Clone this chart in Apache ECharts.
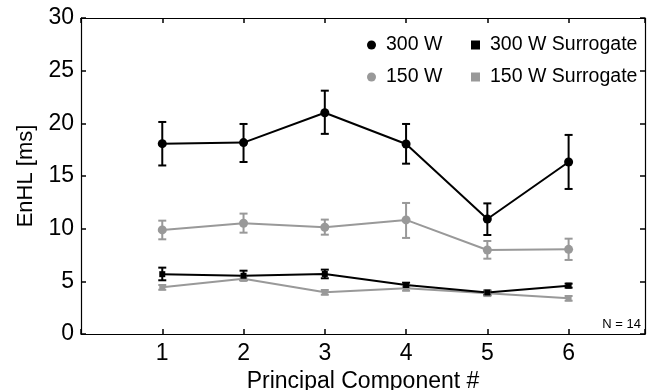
<!DOCTYPE html>
<html>
<head>
<meta charset="utf-8">
<script src="https://cdn.jsdelivr.net/npm/echarts@6/dist/echarts.min.js"></script>
<style>
  html, body { margin: 0; padding: 0; background: #fff; }
  #main { width: 649px; height: 390px; }
</style>
</head>
<body>
<div id="main"></div>
<script>
  // principal components
  var components = [1, 2, 3, 4, 5, 6];
  var yTicks = [0, 5, 10, 15, 20, 25, 30];

  // 300 W
  var w300 = [18.07, 18.17, 21.0, 18.04, 10.92, 16.33];
  var w300Low = [16.0, 16.33, 19.0, 16.17, 9.4, 13.77];
  var w300High = [20.13, 19.94, 23.1, 19.94, 12.4, 18.9];
  // 150 W
  var w150 = [9.88, 10.51, 10.13, 10.83, 7.98, 8.04];
  var w150Low = [8.99, 9.62, 9.43, 9.12, 7.15, 7.03];
  var w150High = [10.76, 11.43, 10.86, 12.44, 8.83, 9.05];
  // 300 W Surrogate
  var s300 = [5.68, 5.53, 5.70, 4.65, 3.94, 4.59];
  var s300Low = [5.1, 5.13, 5.29, 4.43, 3.7, 4.4];
  var s300High = [6.3, 6.01, 6.11, 4.87, 4.11, 4.78];
  // 150 W Surrogate
  var s150 = [4.43, 5.25, 3.96, 4.34, 3.88, 3.39];
  var s150Low = [4.2, 5.05, 3.73, 4.11, 3.6, 3.16];
  var s150High = [4.65, 5.45, 4.18, 4.49, 4.15, 3.61];

  var FONT = "'Liberation Sans', Arial, sans-serif";
  var BLACK = '#000000', GREY = '#999999';

  function pairs(vals) {
    var out = [];
    for (var i = 0; i < components.length; i++) out.push([components[i], vals[i]]);
    return out;
  }
  function errPairs(lo, hi) {
    var out = [];
    for (var i = 0; i < components.length; i++) out.push([components[i], lo[i], hi[i]]);
    return out;
  }

  function errSeries(name, lo, hi, color) {
    return {
      name: name,
      type: 'custom',
      z: 3,
      silent: true,
      data: errPairs(lo, hi),
      renderItem: function (params, api) {
        var x = api.value(0);
        var top = api.coord([x, api.value(2)]);
        var bot = api.coord([x, api.value(1)]);
        var w = 4;
        var st = { stroke: color, lineWidth: 2 };
        return {
          type: 'group',
          children: [
            { type: 'line', shape: { x1: top[0], y1: top[1], x2: bot[0], y2: bot[1] }, style: st },
            { type: 'line', shape: { x1: top[0] - w, y1: top[1], x2: top[0] + w, y2: top[1] }, style: st },
            { type: 'line', shape: { x1: bot[0] - w, y1: bot[1], x2: bot[0] + w, y2: bot[1] }, style: st }
          ]
        };
      }
    };
  }

  function lineSeries(name, vals, color, symbol, size) {
    return {
      name: name,
      type: 'line',
      z: 4,
      data: pairs(vals),
      symbol: symbol,
      symbolSize: size,
      showSymbol: true,
      lineStyle: { color: color, width: 2 },
      itemStyle: { color: color },
      emphasis: { disabled: true },
      animation: false
    };
  }

  var xFormatter = function (v) {
    return (components.indexOf(Math.round(v)) >= 0 && Math.abs(v - Math.round(v)) < 1e-6) ? String(Math.round(v)) : '';
  };

  // axis frame pieces shared by all four sides
  var frameLine = { show: true, onZero: false, lineStyle: { color: '#000', width: 1.2 } };
  var frameTick = { show: true, inside: true, length: 5, lineStyle: { color: '#000', width: 1.5 } };
  var legendText = { fontSize: 19.5, color: '#000', fontFamily: FONT, padding: [0, 0, 0, 5] };

  var option = {
    animation: false,
    backgroundColor: '#fff',
    textStyle: { fontFamily: FONT },
    grid: { left: 81, right: 4, top: 18, bottom: 56, containLabel: false, outerBoundsMode: 'none' },
    legend: [
      {
        orient: 'vertical', left: 367, top: 35, padding: 0,
        itemWidth: 9, itemHeight: 9, itemGap: 12,
        textStyle: legendText,
        data: [{ name: '300 W', icon: 'circle' }, { name: '150 W', icon: 'circle' }]
      },
      {
        orient: 'vertical', left: 471, top: 35, padding: 0,
        itemWidth: 9, itemHeight: 9, itemGap: 12,
        textStyle: legendText,
        data: [{ name: '300 W Surrogate', icon: 'rect' }, { name: '150 W Surrogate', icon: 'rect' }]
      }
    ],
    graphic: [
      {
        type: 'text', right: 8, top: 318,
        style: { text: 'N = 14', fill: '#000', font: '13px ' + FONT }
      }
    ],
    xAxis: [
      {
        type: 'value', min: 0, max: 6.94, interval: 1,
        name: 'Principal Component #', nameLocation: 'middle', nameGap: 27,
        nameTextStyle: { fontSize: 23, color: '#000', fontFamily: FONT },
        axisLine: frameLine,
        axisTick: frameTick,
        axisLabel: { formatter: xFormatter, fontSize: 23, color: '#000', margin: 8, fontFamily: FONT },
        splitLine: { show: false }
      },
      {
        type: 'value', position: 'top', min: 0, max: 6.94, interval: 1,
        axisLine: frameLine,
        axisTick: frameTick,
        axisLabel: { show: false },
        splitLine: { show: false }
      }
    ],
    yAxis: [
      {
        type: 'value', min: yTicks[0], max: yTicks[yTicks.length - 1], interval: 5,
        name: 'EnHL [ms]', nameLocation: 'middle', nameGap: 44,
        nameTextStyle: { fontSize: 22, color: '#000', fontFamily: FONT },
        axisLine: frameLine,
        axisTick: frameTick,
        axisLabel: { fontSize: 23, color: '#000', margin: 7, fontFamily: FONT },
        splitLine: { show: false }
      },
      {
        type: 'value', position: 'right', min: yTicks[0], max: yTicks[yTicks.length - 1], interval: 5,
        axisLine: frameLine,
        axisTick: frameTick,
        axisLabel: { show: false },
        splitLine: { show: false }
      }
    ],
    series: [
      errSeries('300 W err', w300Low, w300High, BLACK),
      errSeries('150 W err', w150Low, w150High, GREY),
      errSeries('300 W Surrogate err', s300Low, s300High, BLACK),
      errSeries('150 W Surrogate err', s150Low, s150High, GREY),
      lineSeries('150 W Surrogate', s150, GREY, 'rect', 6),
      lineSeries('150 W', w150, GREY, 'circle', 9),
      lineSeries('300 W Surrogate', s300, BLACK, 'rect', 6),
      lineSeries('300 W', w300, BLACK, 'circle', 9)
    ]
  };

  var myChart = echarts.init(document.getElementById('main'));
  myChart.setOption(option);
</script>
</body>
</html>
